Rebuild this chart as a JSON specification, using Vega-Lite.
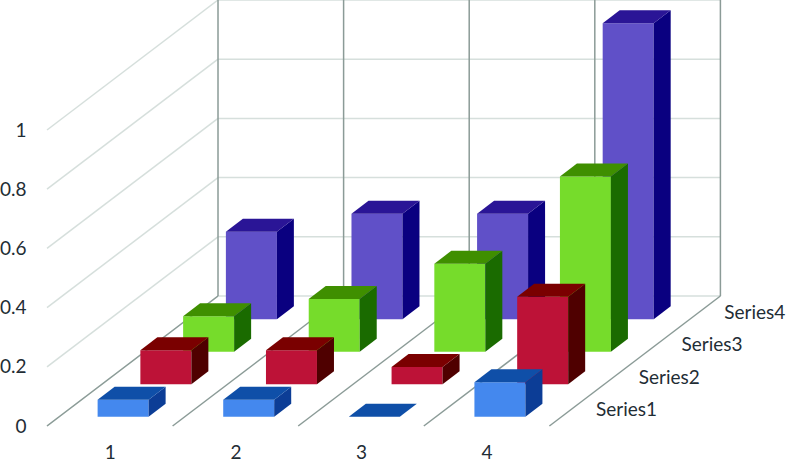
{
"$schema":"https://vega.github.io/schema/vega-lite/v6.json",
"width":787,"height":460,"padding":0,"autosize":"none","background":"white",
"config":{"view":{"stroke":null},"font":"Lato","axis":{"grid":false,"domain":false,"ticks":false,"title":null}},
"datasets":{
"ticks":[{"tick":0},{"tick":0.2},{"tick":0.4},{"tick":0.6},{"tick":0.8},{"tick":1}],
"edges":[{"edge":0},{"edge":1},{"edge":2},{"edge":3},{"edge":4}],
"names":[{"name":"Series1","s":1},{"name":"Series2","s":2},{"name":"Series3","s":3},{"name":"Series4","s":4}],
"bars":[
{"category":1,"s":1,"value":0.057},{"category":2,"s":1,"value":0.057},{"category":3,"s":1,"value":0},{"category":4,"s":1,"value":0.116},
{"category":1,"s":2,"value":0.115},{"category":2,"s":2,"value":0.115},{"category":3,"s":2,"value":0.058},{"category":4,"s":2,"value":0.295},
{"category":1,"s":3,"value":0.12},{"category":2,"s":3,"value":0.178},{"category":3,"s":3,"value":0.297},{"category":4,"s":3,"value":0.592},
{"category":1,"s":4,"value":0.295},{"category":2,"s":4,"value":0.356},{"category":3,"s":4,"value":0.356},{"category":4,"s":4,"value":1.0}
]},
"layer":[
{"data":{"name":"ticks"},
 "transform":[{"calculate":"0.5","as":"xf"},{"calculate":"1.8615","as":"xb"},{"calculate":"5.8615","as":"xe"},{"calculate":"datum.tick+0.4392","as":"yb"}],
 "layer":[
 {"mark":{"type":"rule","color":"#d6dfdc","strokeWidth":1.5},
  "encoding":{
   "x":{"field":"xf","type":"quantitative","title":null,"scale":{"domain":[0.1258,6.3917],"nice":false,"zero":false},
        "axis":{"values":[1,2,3,4],"format":"d","title":null,"domain":false,"ticks":false,"grid":false,"offset":-17,"labelPadding":0,"labelBaseline":"top","labelFontSize":19,"labelColor":"#1f2d35","labelFont":"Lato"}},
   "x2":{"field":"xb"},
   "y":{"field":"tick","type":"quantitative","title":null,"scale":{"domain":[-0.11486,1.43919],"nice":false,"zero":false},
        "axis":{"values":[0,0.2,0.4,0.6,0.8,1],"format":"~g","title":null,"domain":false,"ticks":false,"grid":false,"offset":-26,"labelPadding":0,"labelAlign":"right","labelBaseline":"middle","labelFontSize":19,"labelColor":"#1f2d35","labelFont":"Lato"}},
   "y2":{"field":"yb"}}},
 {"mark":{"type":"rule","color":"#d6dfdc","strokeWidth":1.5},
  "encoding":{"x":{"field":"xb","type":"quantitative","title":null},"x2":{"field":"xe"},"y":{"field":"yb","type":"quantitative","title":null}}}
 ]},
{"data":{"name":"edges"},
 "transform":[{"calculate":"datum.edge+0.5","as":"xf"},{"calculate":"datum.edge+1.8615","as":"xb"},{"calculate":"0","as":"y0"},{"calculate":"0.4392","as":"yb"},{"calculate":"1.4392","as":"yt"}],
 "layer":[
 {"mark":{"type":"rule","color":"#8b9b97","strokeWidth":1.5},
  "encoding":{"x":{"field":"xf","type":"quantitative","title":null},"x2":{"field":"xb"},"y":{"field":"y0","type":"quantitative","title":null},"y2":{"field":"yb"}}},
 {"mark":{"type":"rule","color":"#8b9b97","strokeWidth":1.5},
  "encoding":{"x":{"field":"xb","type":"quantitative","title":null},"y":{"field":"yb","type":"quantitative","title":null},"y2":{"field":"yt"}}}
 ]},
{"data":{"name":"names"},
 "transform":[{"calculate":"4.871+0.3404*(datum.s-1)","as":"lx"},{"calculate":"0.054+0.1098*(datum.s-1)","as":"ly"}],
 "mark":{"type":"text","align":"left","baseline":"middle","fontSize":19,"color":"#1f2d35","font":"Lato"},
 "encoding":{"x":{"field":"lx","type":"quantitative","title":null},"y":{"field":"ly","type":"quantitative","title":null},"text":{"field":"name"}}},
{"data":{"name":"bars"},
 "transform":[
  {"calculate":"datum.category+0.106+0.3404*(datum.s-1)","as":"cx"},
  {"calculate":"datum.cx-0.203","as":"xl"},
  {"calculate":"datum.cx+0.203","as":"xr"},
  {"calculate":"0.0315+0.1098*(datum.s-1)","as":"yb"},
  {"calculate":"datum.yb+datum.value","as":"yt"},
  {"calculate":"[0,1]","as":"t"},
  {"flatten":["t"]},
  {"calculate":"datum.xl+datum.t*0.1354","as":"txl"},
  {"calculate":"datum.xr+datum.t*0.1354","as":"txr"},
  {"calculate":"datum.yb+datum.t*0.0439","as":"syb"},
  {"calculate":"datum.yt+datum.t*0.0439","as":"syt"}
 ],
 "layer":[
 {"transform":[{"filter":"datum.s==4"}],"layer":[
  {"transform":[{"filter":"datum.t==0"}],"mark":{"type":"rect","color":"#6050c8"},"encoding":{"x":{"field":"xl","type":"quantitative","title":null},"x2":{"field":"xr"},"y":{"field":"yb","type":"quantitative","title":null},"y2":{"field":"yt"}}},
  {"mark":{"type":"area","orient":"vertical","color":"#0a0080"},"encoding":{"detail":{"field":"category"},"x":{"field":"txr","type":"quantitative","title":null},"y":{"field":"syb","type":"quantitative","title":null},"y2":{"field":"syt"}}},
  {"mark":{"type":"area","orient":"horizontal","color":"#2a1596"},"encoding":{"detail":{"field":"category"},"x":{"field":"txl","type":"quantitative","title":null},"x2":{"field":"txr"},"y":{"field":"syt","type":"quantitative","title":null}}}
 ]},
 {"transform":[{"filter":"datum.s==3"}],"layer":[
  {"transform":[{"filter":"datum.t==0"}],"mark":{"type":"rect","color":"#76dc2b"},"encoding":{"x":{"field":"xl","type":"quantitative","title":null},"x2":{"field":"xr"},"y":{"field":"yb","type":"quantitative","title":null},"y2":{"field":"yt"}}},
  {"mark":{"type":"area","orient":"vertical","color":"#1a6b00"},"encoding":{"detail":{"field":"category"},"x":{"field":"txr","type":"quantitative","title":null},"y":{"field":"syb","type":"quantitative","title":null},"y2":{"field":"syt"}}},
  {"mark":{"type":"area","orient":"horizontal","color":"#3f8f00"},"encoding":{"detail":{"field":"category"},"x":{"field":"txl","type":"quantitative","title":null},"x2":{"field":"txr"},"y":{"field":"syt","type":"quantitative","title":null}}}
 ]},
 {"transform":[{"filter":"datum.s==2"}],"layer":[
  {"transform":[{"filter":"datum.t==0"}],"mark":{"type":"rect","color":"#bd1237"},"encoding":{"x":{"field":"xl","type":"quantitative","title":null},"x2":{"field":"xr"},"y":{"field":"yb","type":"quantitative","title":null},"y2":{"field":"yt"}}},
  {"mark":{"type":"area","orient":"vertical","color":"#4f0000"},"encoding":{"detail":{"field":"category"},"x":{"field":"txr","type":"quantitative","title":null},"y":{"field":"syb","type":"quantitative","title":null},"y2":{"field":"syt"}}},
  {"mark":{"type":"area","orient":"horizontal","color":"#7a0000"},"encoding":{"detail":{"field":"category"},"x":{"field":"txl","type":"quantitative","title":null},"x2":{"field":"txr"},"y":{"field":"syt","type":"quantitative","title":null}}}
 ]},
 {"transform":[{"filter":"datum.s==1"}],"layer":[
  {"transform":[{"filter":"datum.t==0"}],"mark":{"type":"rect","color":"#4488ee"},"encoding":{"x":{"field":"xl","type":"quantitative","title":null},"x2":{"field":"xr"},"y":{"field":"yb","type":"quantitative","title":null},"y2":{"field":"yt"}}},
  {"mark":{"type":"area","orient":"vertical","color":"#0c3d96"},"encoding":{"detail":{"field":"category"},"x":{"field":"txr","type":"quantitative","title":null},"y":{"field":"syb","type":"quantitative","title":null},"y2":{"field":"syt"}}},
  {"mark":{"type":"area","orient":"horizontal","color":"#0f4fa8"},"encoding":{"detail":{"field":"category"},"x":{"field":"txl","type":"quantitative","title":null},"x2":{"field":"txr"},"y":{"field":"syt","type":"quantitative","title":null}}}
 ]}
 ]}
]}
